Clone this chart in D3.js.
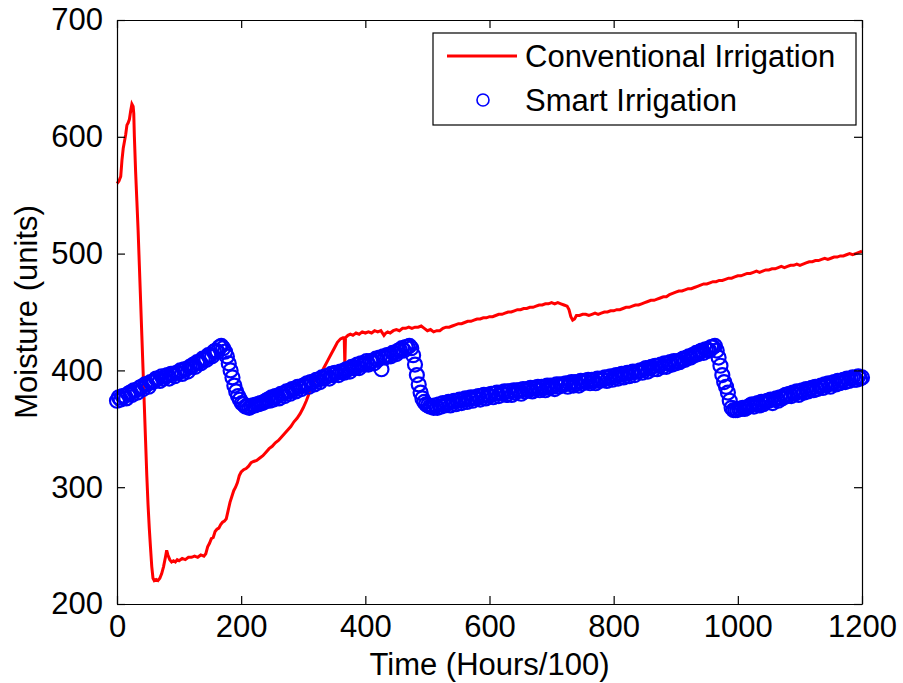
<!DOCTYPE html>
<html>
<head>
<meta charset="utf-8">
<script src="https://cdn.jsdelivr.net/npm/d3@7"></script>
<style>
  html, body { margin: 0; padding: 0; background: #fff; }
  svg { display: block; }
  text { font-family: "Liberation Sans", Arial, Helvetica, sans-serif; fill: #000; }
</style>
</head>
<body>
<svg id="chart" width="903" height="683"></svg>
<script>
// ---------------- DATA ----------------
const xTicks = [0, 200, 400, 600, 800, 1000, 1200];
const yTicks = [200, 300, 400, 500, 600, 700];
const xLabel = "Time (Hours/100)";
const yLabel = "Moisture (units)";
const seriesNames = ["Conventional Irrigation", "Smart Irrigation"];

// Conventional irrigation: sample times and moisture values
const convTime = [
  0,3,6,8,10,12,14,16,18,20,22,24,26,27,28,30,32,34,36,38,
  40,42,44,46,48,50,52,54,56,58,60,63,66,69,72,75,78,80,82,85,
  88,91,94,97,100,105,110,115,120,125,130,135,140,143,146,149,152,155,158,161,
  164,167,170,173,176,179,182,185,188,191,194,197,200,204,208,212,216,220,225,230,
  235,240,245,250,255,260,265,270,275,280,285,290,295,300,305,310,315,320,325,330,
  335,340,345,350,355,360,364,366,367,368,372,376,380,385,390,395,400,405,410,415,
  420,425,430,433,436,440,445,450,455,460,465,470,475,480,485,490,495,500,505,510,
  515,520,525,530,535,540,545,550,555,560,565,570,575,580,585,590,595,600,605,610,
  615,620,625,630,635,640,645,650,655,660,665,670,675,680,685,690,695,700,705,710,
  715,720,725,728,731,734,737,740,745,750,755,760,765,770,775,780,785,790,795,800,
  805,810,815,820,825,830,835,840,845,850,855,860,865,870,875,880,885,890,895,900,
  905,910,915,920,925,930,935,940,945,950,955,960,965,970,975,980,985,990,995,1000,
  1005,1010,1015,1020,1025,1030,1035,1040,1045,1050,1055,1060,1065,1070,1075,1080,1085,1090,1095,1100,
  1105,1110,1115,1120,1125,1130,1135,1140,1145,1150,1155,1160,1165,1170,1175,1180,1185,1190,1195,1200
];
const convValues = [
  560,562,566,580,590,596,602,610,612,615,622,628,626,620,600,570,545,520,490,460,
  430,400,370,340,310,285,265,248,232,222,220,221,220,222,226,232,240,246,242,238,
  236,237,236,238,237,239,238,240,240,241,240,242,241,243,249,252,256,257,262,264,
  265,268,270,271,273,280,287,292,297,300,304,310,313,315,316,318,321,322,323,325,
  327,330,333,335,338,340,343,346,349,352,356,359,363,368,374,381,388,392,395,399,
  404,409,414,419,424,427,428,428,405,428,430,431,430,432,431,433,432,433,432,434,
  433,434,430,432,433,432,434,435,434,436,436,437,436,437,437,438,436,434,435,433,
  434,434,436,437,437,438,439,440,440,441,442,442,443,444,444,445,445,446,446,447,
  448,448,449,450,450,451,452,452,453,453,454,454,455,456,456,457,457,458,457,458,
  457,456,455,452,446,443,444,447,447,448,448,447,448,449,448,449,450,450,451,451,
  452,452,453,454,454,455,456,456,457,458,459,460,460,461,462,463,463,465,466,467,
  468,468,469,470,470,471,472,473,474,474,475,476,476,477,477,478,479,479,480,481,
  481,482,483,483,484,485,484,485,486,486,487,487,488,489,488,489,490,490,491,490,
  491,492,493,493,494,494,495,496,495,496,497,497,498,498,499,500,499,500,501,502
];

// Smart irrigation: one reading every 3 time units, 0 .. 1200
const smartStep = 3;
const smartValues = [
  374,377,375,378,378,376,380,381,379,383,383,381,385,386,384,388,388,386,390,390,
  391,393,393,391,395,393,395,396,393,397,397,395,398,398,400,397,401,401,399,403,
  403,405,403,407,407,406,410,410,409,413,413,412,416,417,416,420,421,419,416,412,
  406,400,394,387,382,378,375,372,371,369,369,368,369,370,370,371,371,372,372,373,
  374,375,374,377,375,378,378,376,380,380,378,382,382,380,384,384,382,386,386,384,
  387,387,389,386,390,390,388,392,392,390,394,393,395,395,393,397,396,398,398,396,
  399,399,398,401,401,399,403,402,402,405,402,406,405,405,408,405,408,408,406,410,
  409,411,401,412,411,413,413,412,415,415,414,417,417,419,417,420,420,421,419,413,
  405,396,388,381,376,373,371,370,369,369,368,370,368,371,369,372,370,372,373,370,
  373,374,371,374,375,372,375,376,373,376,377,374,377,376,378,375,378,379,376,379,
  378,380,377,380,381,378,381,380,382,379,382,382,379,383,381,383,383,380,384,382,
  384,383,385,382,385,384,386,383,386,385,383,387,385,387,386,384,388,386,388,387,
  388,389,386,389,390,387,390,389,387,391,389,391,390,392,389,392,391,389,393,391,
  393,392,394,391,394,395,392,395,396,393,396,397,394,397,398,395,398,399,396,399,
  399,400,398,401,402,399,402,403,401,404,401,404,405,403,406,403,406,407,405,408,
  406,408,407,409,410,409,411,412,411,413,413,415,414,416,417,415,418,418,417,420,
  420,421,417,411,404,396,390,386,381,374,368,366,366,366,367,367,368,367,368,369,
  370,371,369,371,372,370,373,371,373,374,374,375,372,375,376,374,377,376,378,379,
  378,380,378,381,380,382,379,382,383,381,384,382,384,385,383,386,384,386,387,385,
  388,387,389,386,389,390,388,391,389,391,392,390,393,391,393,394,392,392,395,393,
  394
];

// ---------------- CHART ----------------
const svg = d3.select("#chart");
const W = 903, H = 683;
const plot = { left: 117, top: 20, right: 862, bottom: 604 };

svg.append("rect").attr("width", W).attr("height", H).attr("fill", "#fff");

const x = d3.scaleLinear().domain([0, 1200]).range([plot.left, plot.right]);
const y = d3.scaleLinear().domain([200, 700]).range([plot.bottom, plot.top]);

const fontSize = 31;
const tickLen = 8;
const fmt = d3.format("d");

// Axes (box with inward ticks on all sides)
const axBottom = d3.axisBottom(x).tickValues(xTicks).tickFormat(fmt).tickSizeInner(-tickLen).tickSizeOuter(0).tickPadding(11);
const axTop = d3.axisTop(x).tickValues(xTicks).tickSizeInner(-tickLen).tickSizeOuter(0).tickFormat("");
const axLeft = d3.axisLeft(y).tickValues(yTicks).tickFormat(fmt).tickSizeInner(-tickLen).tickSizeOuter(0).tickPadding(14);
const axRight = d3.axisRight(y).tickValues(yTicks).tickSizeInner(-tickLen).tickSizeOuter(0).tickFormat("");

function styleAxis(g) {
  g.select(".domain").attr("stroke", "#000").attr("stroke-width", 1.2);
  g.selectAll(".tick line").attr("stroke", "#000").attr("stroke-width", 1.2);
  g.selectAll(".tick text")
    .attr("font-family", '"Liberation Sans", Arial, sans-serif')
    .attr("font-size", fontSize).attr("fill", "#000");
}

// Series first (under axes)
const lineGen = d3.line()
  .x((d, i) => x(convTime[i]))
  .y(d => y(d));

svg.append("path")
  .datum(convValues)
  .attr("d", lineGen)
  .attr("fill", "none")
  .attr("stroke", "#ff0000")
  .attr("stroke-width", 3)
  .attr("stroke-linejoin", "miter")
  .attr("stroke-linecap", "butt");

svg.append("g")
  .selectAll("circle")
  .data(smartValues)
  .join("circle")
  .attr("cx", (d, i) => x(i * smartStep))
  .attr("cy", d => y(d))
  .attr("r", 7)
  .attr("fill", "none")
  .attr("stroke", "#0000ff")
  .attr("stroke-width", 2.2);

svg.append("g").attr("transform", `translate(0,${plot.bottom})`).call(axBottom).call(styleAxis);
svg.append("g").attr("transform", `translate(0,${plot.top})`).call(axTop).call(styleAxis);
svg.append("g").attr("transform", `translate(${plot.left},0)`).call(axLeft).call(styleAxis);
svg.append("g").attr("transform", `translate(${plot.right},0)`).call(axRight).call(styleAxis);

// Axis labels
svg.append("text")
  .attr("x", (plot.left + plot.right) / 2)
  .attr("y", 675)
  .attr("text-anchor", "middle")
  .attr("font-size", fontSize)
  .text(xLabel);

svg.append("text")
  .attr("transform", `translate(37,${(plot.top + plot.bottom) / 2}) rotate(-90)`)
  .attr("text-anchor", "middle")
  .attr("font-size", fontSize)
  .text(yLabel);

// Legend
const lg = svg.append("g");
lg.append("rect")
  .attr("x", 433).attr("y", 33).attr("width", 423).attr("height", 92)
  .attr("fill", "#fff").attr("stroke", "#000").attr("stroke-width", 1.2);
lg.append("line")
  .attr("x1", 447).attr("x2", 517).attr("y1", 56).attr("y2", 56)
  .attr("stroke", "#ff0000").attr("stroke-width", 3);
lg.append("circle")
  .attr("cx", 483).attr("cy", 100).attr("r", 6)
  .attr("fill", "none").attr("stroke", "#0000ff").attr("stroke-width", 1.6);
lg.append("text").attr("x", 525).attr("y", 67).attr("font-size", fontSize).text(seriesNames[0]);
lg.append("text").attr("x", 525).attr("y", 111).attr("font-size", fontSize).text(seriesNames[1]);
</script>
</body>
</html>
